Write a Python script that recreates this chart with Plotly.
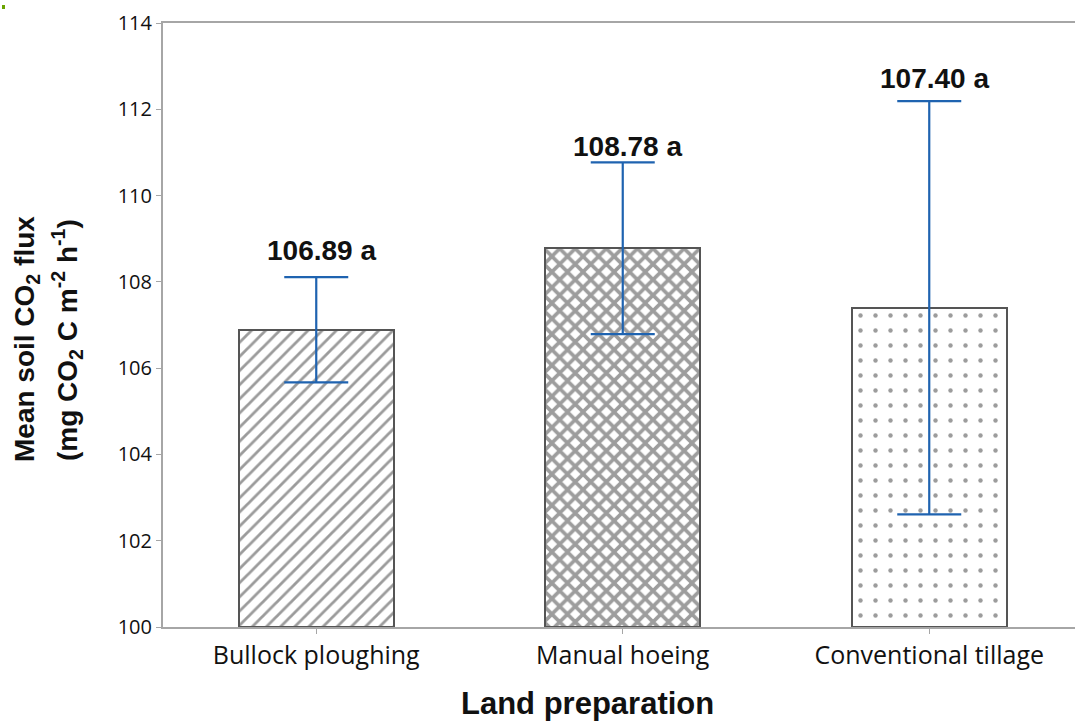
import plotly.graph_objects as go

# Land preparation treatments and mean soil CO2 flux
categories = ["Bullock ploughing", "Manual hoeing", "Conventional tillage"]
mean_flux = [106.89, 108.78, 107.40]
flux_err = [1.22, 1.99, 4.79]
letters = ["a", "a", "a"]
y_ticks = [100, 102, 104, 106, 108, 110, 112, 114]

# Fill pattern per treatment
patterns = [
    dict(shape="/", size=10, solidity=0.28, fgcolor="#383838", bgcolor="white"),
    dict(shape="x", size=11, solidity=0.55, fgcolor="#3c3c3c", bgcolor="white"),
    dict(shape=".", size=15, solidity=0.07, fgcolor="#3a3a3a", bgcolor="white"),
]

W, H = 1075, 721
ML, MR, MT, MB = 163, 0, 23, 94
PW, PH = W - ML - MR, H - MT - MB
x_positions = list(range(len(categories)))
cat_px = 306.5  # pixels per category slot
x_max = -0.5 + PW / cat_px

fig = go.Figure()
for i, cat in enumerate(categories):
    fig.add_trace(go.Bar(
        x=[x_positions[i]],
        y=[mean_flux[i] - 100],
        base=100,
        width=0.505,
        marker=dict(color="white", pattern=patterns[i],
                    line=dict(color="#555555", width=2)),
        error_y=dict(type="data", array=[flux_err[i]], visible=True,
                     color="#1f63b0", thickness=2.2, width=32),
        showlegend=False,
        hoverinfo="skip",
    ))

# Value labels above the error bars
label_shift = [27, 16, 23]
for i, cat in enumerate(categories):
    fig.add_annotation(
        x=x_positions[i], y=mean_flux[i] + flux_err[i],
        text=f"<b>{mean_flux[i]:.2f} {letters[i]}</b>",
        showarrow=False, xanchor="center", yanchor="middle",
        xshift=5, yshift=label_shift[i],
        font=dict(family="Liberation Sans, Arial", size=28, color="#111111"),
    )

def px_x(px):
    return (px - ML) / PW

def px_y(py):
    return (MT + PH - py) / PH

# Axis titles
fig.add_annotation(
    x=px_x(587), y=px_y(703), xref="paper", yref="paper",
    text="<b>Land preparation</b>", showarrow=False,
    xanchor="center", yanchor="middle",
    font=dict(family="Liberation Sans, Arial", size=31, color="#111111"),
)
fig.add_annotation(
    x=px_x(26), y=px_y(339), xref="paper", yref="paper",
    text="<b>Mean soil CO<sub>2</sub> flux</b>", showarrow=False,
    textangle=-90, xanchor="center", yanchor="middle",
    font=dict(family="Liberation Sans, Arial", size=28, color="#111111"),
)
fig.add_annotation(
    x=px_x(67), y=px_y(340), xref="paper", yref="paper",
    text="<b>(mg CO<sub>2</sub> C m<sup>-2</sup> h<sup>-1</sup>)</b>", showarrow=False,
    textangle=-90, xanchor="center", yanchor="middle",
    font=dict(family="Liberation Sans, Arial", size=28, color="#111111"),
)

# Small green mark in the top-left corner
fig.add_shape(type="rect", xref="paper", yref="paper",
              x0=px_x(2), x1=px_x(5), y0=px_y(9), y1=px_y(5),
              fillcolor="#6aa400", line=dict(width=0))

fig.update_layout(
    width=W, height=H,
    margin=dict(l=ML, r=MR, t=MT, b=MB, pad=0),
    plot_bgcolor="white", paper_bgcolor="white",
    bargap=0,
    xaxis=dict(
        range=[-0.5, x_max],
        tickvals=x_positions, ticktext=categories,
        showline=True, linecolor="#a6a6a6", linewidth=2, mirror=True,
        ticks="outside", ticklen=5, tickwidth=1, tickcolor="#a6a6a6",
        showgrid=False, zeroline=False,
        tickfont=dict(family="Open Sans", size=25, color="#111111"),
    ),
    yaxis=dict(
        range=[100, 114],
        tickvals=y_ticks, ticktext=[str(v) for v in y_ticks],
        showline=True, linecolor="#a6a6a6", linewidth=2, mirror=False,
        ticks="outside", ticklen=5, tickwidth=1, tickcolor="#a6a6a6",
        showgrid=False, zeroline=False,
        tickfont=dict(family="Open Sans", size=20, color="#111111"),
    ),
)

fig.write_html("out.html")
